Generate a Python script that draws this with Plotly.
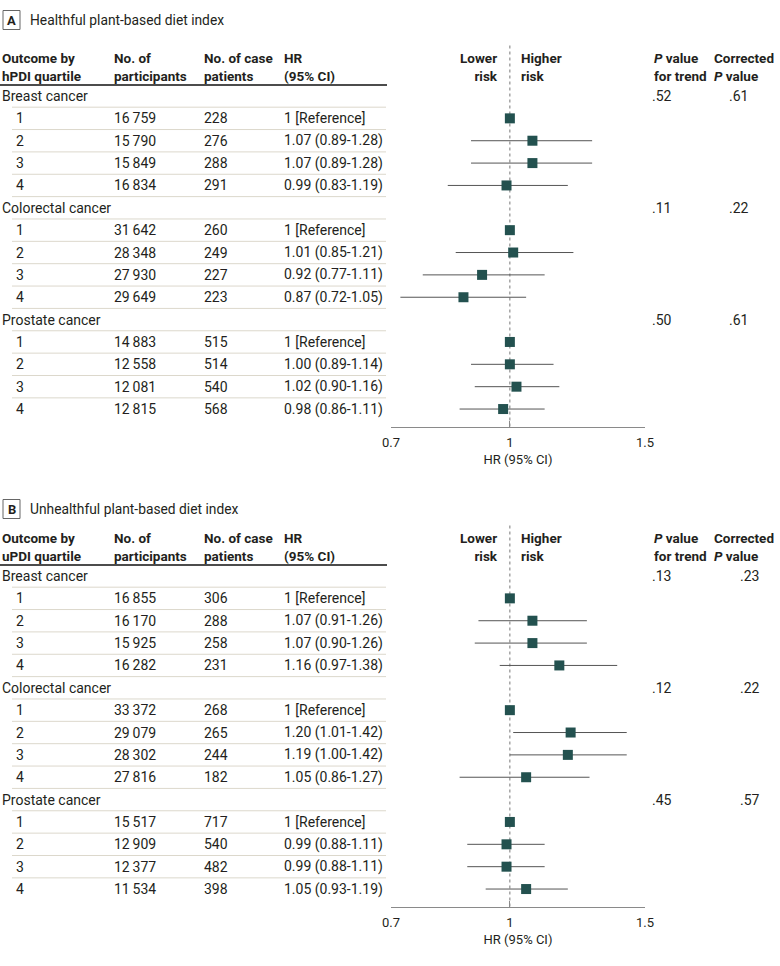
import math
import plotly.graph_objects as go

W, H = 780, 966

# ---------------- data ----------------
outcomes = ["Breast cancer", "Colorectal cancer", "Prostate cancer"]
quartiles = ["1", "2", "3", "4"]

# Panel A: hPDI
h_participants = [[16759, 15790, 15849, 16834],
                  [31642, 28348, 27930, 29649],
                  [14883, 12558, 12081, 12815]]
h_cases = [[228, 276, 288, 291],
           [260, 249, 227, 223],
           [515, 514, 540, 568]]
h_hr = [[1, 1.07, 1.07, 0.99],
        [1, 1.01, 0.92, 0.87],
        [1, 1.00, 1.02, 0.98]]
h_lo = [[None, 0.89, 0.89, 0.83],
        [None, 0.85, 0.77, 0.72],
        [None, 0.89, 0.90, 0.86]]
h_hi = [[None, 1.28, 1.28, 1.19],
        [None, 1.21, 1.11, 1.05],
        [None, 1.14, 1.16, 1.11]]
h_ptrend = [".52", ".11", ".50"]
h_pcorr = [".61", ".22", ".61"]

# Panel B: uPDI
u_participants = [[16855, 16170, 15925, 16282],
                  [33372, 29079, 28302, 27816],
                  [15517, 12909, 12377, 11534]]
u_cases = [[306, 288, 258, 231],
           [268, 265, 244, 182],
           [717, 540, 482, 398]]
u_hr = [[1, 1.07, 1.07, 1.16],
        [1, 1.20, 1.19, 1.05],
        [1, 0.99, 0.99, 1.05]]
u_lo = [[None, 0.91, 0.90, 0.97],
        [None, 1.01, 1.00, 0.86],
        [None, 0.88, 0.88, 0.93]]
u_hi = [[None, 1.26, 1.26, 1.38],
        [None, 1.42, 1.42, 1.27],
        [None, 1.11, 1.11, 1.19]]
u_ptrend = [".13", ".12", ".45"]
u_pcorr = [".23", ".22", ".57"]

x_ticks = [0.7, 1, 1.5]
x_ticktext = ["0.7", "1", "1.5"]

# ---------------- styling / layout constants ----------------
FONT = "Roboto"
TXT = "#231f20"
SQ = "#23514f"
CI_COL = "#555555"
SEP = "#dcd8cc"
AX_COL = "#8a8a8a"
DY = 22.36  # px per row
FS = 14

panels = [
    dict(label="A", title="Healthful plant-based diet index", idx="hPDI",
         part=h_participants, cases=h_cases, hr=h_hr, lo=h_lo, hi=h_hi,
         pt=h_ptrend, pc=h_pcorr, row0=96, top=0, bottom=483, title_px=20,
         header_px=66.5, rule_px=85, axis_px=427, xa="x", ya="y", pc_x=727),
    dict(label="B", title="Unhealthful plant-based diet index", idx="uPDI",
         part=u_participants, cases=u_cases, hr=u_hr, lo=u_lo, hi=u_hi,
         pt=u_ptrend, pc=u_pcorr, row0=576, top=483, bottom=966, title_px=509,
         header_px=546.5, rule_px=565, axis_px=907, xa="x2", ya="y2", pc_x=738),
]

COL_X = dict(cat=0, q=14, part=112, cases=202, hr=282, pt=650)


def px(xp):
    return xp / W


def fmt_int(n):
    return f"{n:,}".replace(",", "\u2009")


fig = go.Figure()
annotations = []
shapes = []

for k, p in enumerate(panels):
    row0 = p["row0"]

    def prow(y_px, row0=row0):
        return (y_px - row0) / DY

    yref = p["ya"]
    xref = p["xa"]
    ys, xs, ep, em = [], [], [], []
    n_rows = 0
    for g, outcome in enumerate(outcomes):
        cat_row = g * 5
        annotations.append(dict(x=px(COL_X["cat"]), y=cat_row, xref="paper", yref=yref,
                                text=outcome, xanchor="left", yanchor="middle",
                                showarrow=False, font=dict(size=FS, color=TXT)))
        annotations.append(dict(x=px(COL_X["pt"]), y=cat_row, xref="paper", yref=yref,
                                text=p["pt"][g], xanchor="left", yanchor="middle",
                                showarrow=False, font=dict(size=FS, color=TXT)))
        annotations.append(dict(x=px(p["pc_x"]), y=cat_row, xref="paper", yref=yref,
                                text=p["pc"][g], xanchor="left", yanchor="middle",
                                showarrow=False, font=dict(size=FS, color=TXT)))
        for qi, q in enumerate(quartiles):
            r = cat_row + 1 + qi
            hr = p["hr"][g][qi]
            lo = p["lo"][g][qi]
            hi = p["hi"][g][qi]
            if lo is None:
                hr_text = f"{hr:g} [Reference]"
            else:
                hr_text = f"{hr:.2f} ({lo:.2f}-{hi:.2f})"
            for key, val in (("q", q), ("part", fmt_int(p["part"][g][qi])),
                             ("cases", str(p["cases"][g][qi])), ("hr", hr_text)):
                annotations.append(dict(x=px(COL_X[key]), y=r, xref="paper", yref=yref,
                                        text=val, xanchor="left", yanchor="middle",
                                        showarrow=False, font=dict(size=FS, color=TXT)))
            xs.append(hr)
            ys.append(r)
            ep.append(0 if hi is None else hi - hr)
            em.append(0 if lo is None else hr - lo)
        n_rows = cat_row + 5

    # separators
    for r in range(n_rows - 1):
        shapes.append(dict(type="line", xref="paper", yref=yref, x0=px(12), x1=px(386),
                           y0=r + 0.5, y1=r + 0.5, line=dict(color=SEP, width=1)))
    # header rule
    shapes.append(dict(type="line", xref="paper", yref=yref, x0=0, x1=px(387),
                       y0=prow(p["rule_px"]), y1=prow(p["rule_px"]),
                       line=dict(color="#111", width=1.6)))
    # reference line at HR = 1
    shapes.append(dict(type="line", xref=xref, yref=yref, x0=1, x1=1,
                       y0=prow(p["header_px"] - 21), y1=prow(p["axis_px"]), layer="below",
                       line=dict(color="#777", width=1, dash="dot")))
    # panel label box
    tp = p["title_px"]
    shapes.append(dict(type="rect", xref="paper", yref=yref, x0=px(3), x1=px(20),
                       y0=prow(tp - 9.5), y1=prow(tp + 9.5),
                       line=dict(color="#666", width=1)))
    annotations.append(dict(x=px(11.5), y=prow(tp), xref="paper", yref=yref,
                            text=f"<b>{p['label']}</b>", xanchor="center", yanchor="middle",
                            showarrow=False, font=dict(size=13, color=TXT)))
    annotations.append(dict(x=px(28), y=prow(tp), xref="paper", yref=yref,
                            text=p["title"], xanchor="left", yanchor="middle",
                            showarrow=False, font=dict(size=13.8, color=TXT)))

    # headers
    hy = prow(p["header_px"])
    headers = [
        (0, f"Outcome by<br>{p['idx']} quartile", "left"),
        (112, "No. of<br>participants", "left"),
        (202, "No. of case<br>patients", "left"),
        (282, "HR<br>(95% CI)", "left"),
        (500, "Lower<br>risk", "right"),
        (519, "Higher<br>risk", "left"),
        (652, "<i>P</i> value<br>for trend", "left"),
        (712, "Corrected<br><i>P</i> value", "left"),
    ]
    for hx, htxt, anc in headers:
        annotations.append(dict(x=px(hx), y=hy, xref="paper", yref=yref,
                                text=f"<b>{htxt}</b>", xanchor=anc, yanchor="middle",
                                align=anc, showarrow=False,
                                font=dict(size=13.5, color=TXT)))

    fig.add_trace(go.Scatter(
        x=xs, y=ys, mode="markers", xaxis=xref, yaxis=yref,
        marker=dict(symbol="square", size=10, color=SQ, line=dict(width=0)),
        error_x=dict(type="data", symmetric=False, array=ep, arrayminus=em,
                     color=CI_COL, thickness=1, width=0),
        cliponaxis=False, hoverinfo="skip", showlegend=False))

xdom = [px(391), px(645)]
xr = [math.log10(0.7), math.log10(1.5)]
axis_common = dict(type="log", domain=xdom, range=xr, anchor="free",
                   showline=True, linecolor=AX_COL, linewidth=1,
                   ticks="inside", ticklen=6, tickcolor=AX_COL, tickwidth=1,
                   tickvals=x_ticks, ticktext=x_ticktext,
                   tickfont=dict(size=13, color=TXT, family=FONT),
                   showgrid=False, zeroline=False, fixedrange=True,
                   ticklabelstandoff=3, automargin=False)

layout_axes = {}
for p in panels:
    xname = "xaxis" if p["xa"] == "x" else "xaxis2"
    yname = "yaxis" if p["ya"] == "y" else "yaxis2"
    layout_axes[xname] = dict(axis_common, position=1 - p["axis_px"] / H,
                              title=dict(text="HR (95% CI)", standoff=6,
                                         font=dict(size=13, color=TXT, family=FONT)))
    row0 = p["row0"]
    layout_axes[yname] = dict(domain=[1 - p["bottom"] / H, 1 - p["top"] / H],
                              range=[(p["bottom"] - row0) / DY, (p["top"] - row0) / DY],
                              visible=False, fixedrange=True, automargin=False,
                              anchor=p["xa"])

fig.update_layout(
    width=W, height=H, autosize=False,
    margin=dict(l=0, r=0, t=0, b=0, pad=0, autoexpand=False),
    paper_bgcolor="white", plot_bgcolor="rgba(0,0,0,0)",
    font=dict(family=FONT, color=TXT),
    annotations=annotations, shapes=shapes,
    showlegend=False,
    **layout_axes,
)

fig.write_html("out.html", config={"displayModeBar": False, "responsive": False},
               post_script="document.body.style.margin='0px';"
                           "document.body.style.overflow='hidden';")
